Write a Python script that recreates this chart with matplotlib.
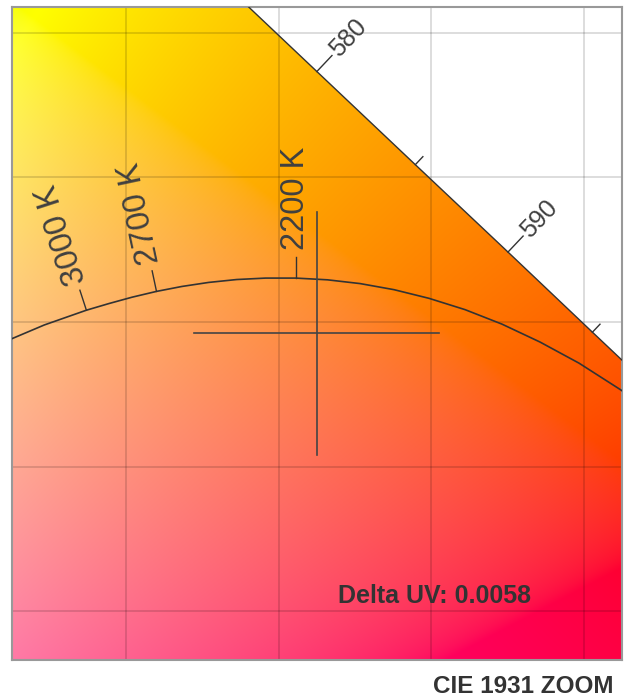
import numpy as np
import matplotlib
matplotlib.use('Agg')
import matplotlib.pyplot as plt
from matplotlib.patches import Polygon

plt.rcParams['font.family'] = ['Liberation Sans', 'DejaVu Sans']

# CIE 1931 spectral locus (nm -> x, y)
spec_nm = [380, 550, 555, 560, 565, 570, 575, 580, 585, 590, 595, 600, 605, 610, 620, 640, 700]
spec_x = [0.1741, 0.3016, 0.3373, 0.3731, 0.4087, 0.4441, 0.4788, 0.5125, 0.5448, 0.5752,
          0.6029, 0.6270, 0.6482, 0.6658, 0.6915, 0.7190, 0.7347]
spec_y = [0.0050, 0.6923, 0.6589, 0.6245, 0.5896, 0.5547, 0.5202, 0.4866, 0.4544, 0.4242,
          0.3965, 0.3725, 0.3514, 0.3340, 0.3083, 0.2809, 0.2653]
tick_nm = [580, 585, 590, 595]
label_nm = [580, 590]

# Planckian locus
planck_T = [1200, 1300, 1400, 1500, 1600, 1700, 1800, 1900, 2000, 2100, 2200, 2300,
            2400, 2500, 2600, 2700, 2800, 2900, 3000, 3200, 3400, 3600]
planck_x = [0.6251, 0.6117, 0.5985, 0.5857, 0.5732, 0.5611, 0.5493, 0.5378, 0.5267, 0.5160,
            0.5056, 0.4957, 0.4862, 0.4770, 0.4682, 0.4599, 0.4519, 0.4443, 0.4369, 0.4231,
            0.4110, 0.4001]
planck_y = [0.3674, 0.3769, 0.3858, 0.3931, 0.3993, 0.4043, 0.4082, 0.4112, 0.4133, 0.4146,
            0.4152, 0.4152, 0.4147, 0.4137, 0.4123, 0.4106, 0.4086, 0.4064, 0.4041, 0.3990,
            0.3936, 0.3880]

# labelled colour temperatures
cct_labels = ['3000 K', '2700 K', '2200 K']
cct_x = [0.4369, 0.4599, 0.5056]
cct_y = [0.4041, 0.4106, 0.4152]
cct_angle = [108, 102, 90]

# measured point
meas_x = 0.5124
meas_y = 0.3962
delta_uv = 0.0058

xlim = (0.4124, 0.6126)
ylim = (0.2832, 0.5090)
grid_x = [0.45, 0.50, 0.55, 0.60]
grid_y = [0.30, 0.35, 0.40, 0.45, 0.50]

W, H = 624, 698
fig = plt.figure(figsize=(W / 100, H / 100), dpi=100)
ax = fig.add_axes([11.7 / W, (H - 660) / H, (622 - 11.7) / W, (660 - 6.7) / H])

# chromaticity colours
gx = np.linspace(xlim[0], xlim[1], 400)
gy = np.linspace(ylim[0], ylim[1], 400)
X, Y = np.meshgrid(gx, gy)
XYZ = np.stack([X / Y, np.ones_like(X), (1 - X - Y) / Y], axis=-1)
M = np.array([[3.2406, -1.5372, -0.4986],
              [-0.9689, 1.8758, 0.0415],
              [0.0557, -0.2040, 1.0570]])
rgb = np.clip(XYZ @ M.T, 0, None)
rgb /= rgb.max(axis=-1, keepdims=True)
rgb = np.where(rgb <= 0.0031308, 12.92 * rgb, 1.055 * rgb ** (1 / 2.4) - 0.055)
rgb = np.clip(rgb, 0, 1)

img = ax.imshow(rgb, origin='lower', extent=(xlim[0], xlim[1], ylim[0], ylim[1]),
                aspect='auto', interpolation='bilinear', zorder=0)
horseshoe = Polygon(list(zip(spec_x, spec_y)), closed=True, transform=ax.transData,
                    facecolor='none', edgecolor='none')
ax.add_patch(horseshoe)
img.set_clip_path(horseshoe)

ax.plot(spec_x[1:], spec_y[1:], color='#333333', lw=1.0, zorder=3)
ax.plot(planck_x, planck_y, color='#333333', lw=1.2, zorder=3)

ax.set_xlim(xlim)
ax.set_ylim(ylim)

to_disp = ax.transData.transform
to_data = ax.transData.inverted().transform

# wavelength ticks on the spectral locus
for nm in tick_nm:
    i = spec_nm.index(nm)
    p = to_disp((spec_x[i], spec_y[i]))
    d = to_disp((spec_x[i + 1], spec_y[i + 1])) - to_disp((spec_x[i - 1], spec_y[i - 1]))
    n = np.array([-d[1], d[0]]) / np.hypot(*d)
    length = 22 if nm in label_nm else 11
    q = to_data([p, p + n * length])
    ax.plot(q[:, 0], q[:, 1], color='#333333', lw=1.0, zorder=3)
    if nm in label_nm:
        t = to_data(p + n * (length + 3))
        ax.text(t[0], t[1], str(nm), rotation=np.degrees(np.arctan2(n[1], n[0])),
                rotation_mode='anchor', ha='left', va='center', fontsize=18,
                color='#404040', zorder=4)

# colour temperature ticks
for lab, x, y, a in zip(cct_labels, cct_x, cct_y, cct_angle):
    p = to_disp((x, y))
    n = np.array([np.cos(np.radians(a)), np.sin(np.radians(a))])
    q = to_data([p, p + n * 21])
    ax.plot(q[:, 0], q[:, 1], color='#333333', lw=1.0, zorder=3)
    t = to_data(p + n * 28)
    ax.text(t[0], t[1], lab, rotation=a, rotation_mode='anchor', ha='left', va='center',
            fontsize=23.5, color='#404040', zorder=4)

# crosshair on the measured point
ax.plot([meas_x - 0.0402, meas_x + 0.0402], [meas_y, meas_y], color='#444444', lw=1.2, zorder=3)
ax.plot([meas_x, meas_x], [meas_y - 0.042, meas_y + 0.042], color='#444444', lw=1.2, zorder=3)

ax.text(0.535, 0.0868, f'Delta UV: {delta_uv:.4f}', transform=ax.transAxes, ha='left',
        va='baseline', fontsize=18, fontweight='bold', color='#333333', zorder=4)

ax.set_xticks(grid_x)
ax.set_yticks(grid_y)
ax.grid(True, color='black', alpha=0.15, lw=1.3)
ax.tick_params(length=0, labelbottom=False, labelleft=False)
for s in ax.spines.values():
    s.set_color('#999999')
    s.set_linewidth(1.5)

fig.text(613.3 / W, 1 - 692.7 / H, 'CIE 1931 ZOOM', ha='right', va='baseline',
         fontsize=17.5, fontweight='bold', color='#333333')

fig.savefig('out.png', dpi=100)
